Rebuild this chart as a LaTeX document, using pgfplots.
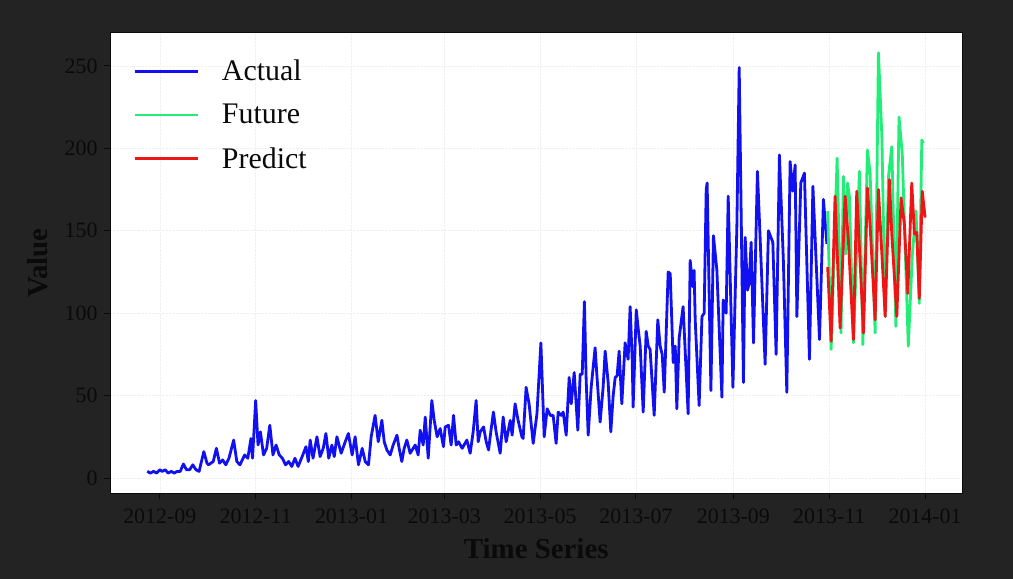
\documentclass[border=0pt]{standalone}
\usepackage{fontspec}
\setmainfont{Liberation Serif}
\usepackage{pgfplots}
\pgfplotsset{compat=1.18}
\definecolor{bgc}{HTML}{232323}
\definecolor{actualc}{HTML}{1010F0}
\definecolor{futurec}{HTML}{22EE77}
\definecolor{predc}{HTML}{EE1515}
\definecolor{txt}{HTML}{0A0A0A}
\begin{document}
\begin{tikzpicture}
\fill[bgc] (0bp,0bp) rectangle (1013bp,579bp);
\begin{axis}[
  at={(110bp,86bp)}, anchor=south west,
  scale only axis, width=852.5bp, height=460bp,
  xmin=-31.7, xmax=510.8, ymin=-9.1, ymax=270,
  xtick={0,61,122,181,242,303,365,426,487},
  xticklabels={2012-09,2012-11,2013-01,2013-03,2013-05,2013-07,2013-09,2013-11,2014-01},
  ytick={0,50,100,150,200,250},
  xtick pos=bottom, ytick pos=left,
  /pgf/number format/assume math mode=true,
  tick label style={font=\fontsize{22}{26}\selectfont, text=txt},
  xticklabel style={yshift=-6bp},
  yticklabel style={xshift=-3bp},
  tick align=outside, major tick length=6bp,
  tick style={txt, line width=1bp},
  axis line style={txt, line width=1bp},
  axis background/.style={fill=white},
  grid=major, major grid style={densely dotted, black!6, line width=0.6bp},
  xlabel={\textbf{Time Series}}, ylabel={\textbf{Value}},
  label style={font=\fontsize{29}{34}\selectfont, text=txt},
  xlabel style={at={(axis description cs:0.5,-0.12)}, anchor=center},
  ylabel style={at={(axis description cs:-0.0845,0.5)}, anchor=center},
  legend style={draw=none, fill=none, at={(axis description cs:0.0,1.0)}, anchor=north west,
    font=\fontsize{30}{36}\selectfont, text=txt, row sep=18bp, inner xsep=23bp, inner ysep=25bp},
  legend cell align=left,
  legend image code/.code={\draw[#1, line width=2.8bp] (0bp,0bp) -- (63bp,0bp); \path (84bp,0bp);},
]
\addplot[actualc, line width=2.8bp, line join=round] table {
x y
-8 4
-6 3
-4 4
-2 3
0 5
1.5 4
3.4 5
5.3 3
7.3 4
9.2 3
11 4
13 4
15 8.5
17 5
19 5
21 8
23 5
25 4
28 16
30 9
31 8
34 10
36 18
38 9
40 11
42 8
44 12
47 23
49 10
51 8
54 14
56 12
58 24
59 12
61 47
62.5 20
64 28
66 14
68 18
70 32
72 14
74 20
76 14
78 12
80 8
82 10
84 7
86 12
88 7
91 14
93 19
94.5 10
95.7 23
97.5 12
100 25
102 13
104 18
105.7 27
107.5 12
109.5 20
111 13
112.7 25
115.4 15
118 22
120 27
122.4 14
124.3 25
126.4 8
128.8 18
130.7 10
132.8 8
134.5 25
137 38
139 22
141.3 35
142.8 22
144.5 17
146.6 14
148.5 20
150.9 26
152.3 18
154 10
155.5 18
157.2 23
159.3 15
162.5 20
164.4 14
165.7 29
167.6 20
168.9 37
170.8 12
173.1 47
174.6 35
176.5 25
178.4 30
180.5 19
181.6 31
183.7 32
185.4 20
186.9 38
188.6 20
190.1 22
192.4 18
195.4 23
197.5 15
199.4 28
201.3 47
202.6 22
203.9 28
206 31
207.7 22
209.2 17
210.9 30
212.3 40
214 28
216.6 15
218.5 37
220.4 22
223 35
224.2 26
226.1 45
228 35
230.4 25
231.2 24
233.1 55
235 45
237.6 21
240 39
242.5 82
244.6 25
246.5 42
248.5 38
250.3 38
252.2 21
253.5 40
255.4 38
256.7 40
258.6 26
260.5 61
261.8 45
263.7 64
266 29
267.5 63
268.8 63
270.2 107
271.3 60
272.6 26
274.5 55
277 79
278.3 60
280.2 34
282.1 55
283.4 77
285.3 58
287 28
288.5 50
289.8 61
291 62
292.3 77
294 45
296.1 82
298 72
299.3 104
300.6 72
301.2 43
303.2 102
304.5 90
305.7 80
307.6 40
309.5 89
310.8 80
312 78
314.6 38
316.9 96
318.4 80
319.7 75
321 52
323.5 125
324.8 124
326.7 70
328 80
329 42
330.5 85
333 104
336.2 39
337.5 132
339.2 116
340 126
340.7 96
343.2 44
345 98
346.4 100
347.7 175
348.3 179
350.7 53
352.3 147
354.5 126
357.7 49
358.5 108
360.4 100
361.7 171
364.7 55
367.2 152
368.7 249
371.4 58
372.5 146
374 114
375 118
376.3 143
377.8 82
380.3 186
382 146
385.2 69
387.3 150
390.1 143
392.2 75
394.3 196
396.8 132
399 52
401.1 192
402.8 174
404.3 190
405.4 98
407.9 179
410.2 185
413.4 72
415.6 177
419.8 84
422.3 169
424.5 142
};
\addlegendentry{Actual}
\addplot[futurec, line width=2.8bp, line join=round] table {
x y
425.0 162
427.2 78
431.0 194
433.5 88
435.0 183
436.5 136
437.6 179
438.8 171
441.4 82
445.2 186
447.4 81
450.3 199
452.0 185
455.2 88
457.3 258
459.5 207
461.6 98
463.7 183
465.8 201
468.4 92
470.4 219
472.5 196
476.3 80
478.9 136
481.2 162
483.3 106
484.9 205
485.9 203
};
\addlegendentry{Future}
\addplot[predc, line width=2.8bp, line join=round] table {
x y
425.0 128
427.2 83
429.7 171
432.9 91
436.1 171
438.2 144
441.4 84
443.5 174
447.8 88
450.3 176
452.0 153
455.2 96
457.3 175
461.6 98
464.3 181
465.8 148
469.0 98
471.7 170
473.8 154
476.0 112
478.5 179
480.2 148
481.7 149
483.3 109
485.2 174
487.0 158
};
\addlegendentry{Predict}
\end{axis}
\pgfresetboundingbox
\useasboundingbox (0bp,0bp) rectangle (1013bp,579bp);
\end{tikzpicture}
\end{document}
